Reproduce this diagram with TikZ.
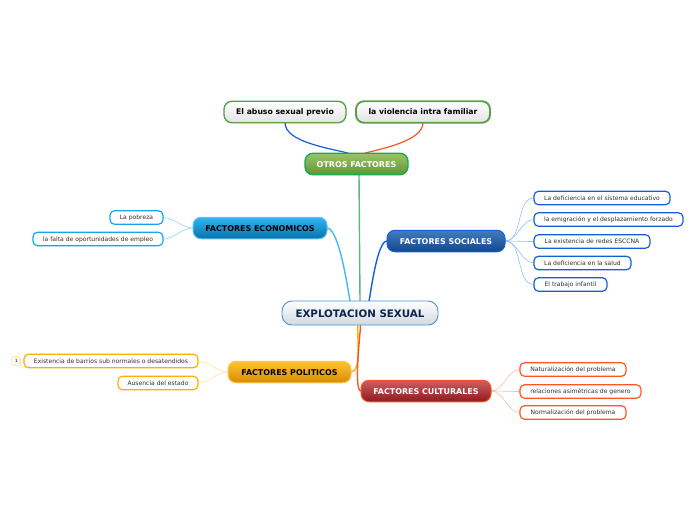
\documentclass[tikz,border=0pt]{standalone}
\usepackage{fontspec}
\setmainfont{DejaVu Sans}
\usetikzlibrary{calc, positioning, backgrounds}

\definecolor{socialblue}{RGB}{20,95,215}
\definecolor{socialpale}{RGB}{150,190,242}
\definecolor{socialtop}{RGB}{65,125,190}
\definecolor{socialbot}{RGB}{20,70,140}
\definecolor{econblue}{RGB}{25,165,235}
\definecolor{econpale}{RGB}{140,215,250}
\definecolor{econtop}{RGB}{50,180,240}
\definecolor{econbot}{RGB}{5,115,175}
\definecolor{polityellow}{RGB}{255,176,0}
\definecolor{politpale}{RGB}{255,226,160}
\definecolor{polittop}{RGB}{255,195,50}
\definecolor{politbot}{RGB}{215,140,5}
\definecolor{cultred}{RGB}{255,85,35}
\definecolor{cultpale}{RGB}{255,185,160}
\definecolor{culttop}{RGB}{205,95,95}
\definecolor{cultbot}{RGB}{145,25,30}
\definecolor{otrosgreen}{RGB}{20,170,85}
\definecolor{otrostop}{RGB}{155,195,105}
\definecolor{otrosbot}{RGB}{95,150,50}
\definecolor{trunkgreen}{RGB}{95,180,135}
\definecolor{leafgreen}{RGB}{90,160,70}
\definecolor{rootblue}{RGB}{60,150,220}
\definecolor{rootgrey}{RGB}{208,217,224}
\definecolor{roottext}{RGB}{15,35,80}

\begin{document}
\begin{tikzpicture}[
    x=1pt, y=-1pt,
    font=\fontsize{6.05}{7.5}\selectfont,
    every node/.style={outer sep=0pt},
    leaf/.style={
        rectangle, line width=1.2pt, fill=white, text=black!80,
        rounded corners=4.5pt, minimum height=13.5pt, inner sep=1pt,
        text height=5.2pt, text depth=0.8pt
    },
    social_leaf/.style={leaf, draw=socialblue},
    econ_leaf/.style={leaf, draw=econblue},
    polit_leaf/.style={leaf, draw=polityellow},
    cult_leaf/.style={leaf, draw=cultred},
    branch_box/.style={
        rectangle, line width=1pt, rounded corners=8pt,
        minimum height=21.5pt, inner sep=1pt, text height=7pt, text depth=0pt,
        font=\fontsize{7.95}{9}\selectfont\bfseries
    },
    top_box/.style={
        rectangle, draw=leafgreen, top color=white, bottom color=black!11,
        rounded corners=8pt, minimum height=21.5pt, inner sep=1pt,
        text height=6.2pt, text depth=0.6pt,
        font=\fontsize{7.7}{9}\selectfont\bfseries
    },
    root_box/.style={
        rectangle, draw=rootblue, line width=0.9pt, top color=white, bottom color=rootgrey,
        rounded corners=10pt, minimum width=156pt, minimum height=24pt, inner sep=1pt,
        text height=8.5pt, text depth=0pt,
        text=roottext, font=\fontsize{10.3}{12}\selectfont\bfseries
    },
    trunk/.style={line width=1.4pt},
    twig/.style={line width=0.6pt}
]

    % =========================================================================
    % FRAME
    % =========================================================================
    \useasboundingbox (0,0) rectangle (696,520);

    % =========================================================================
    % ROOT AND FIRST LEVEL
    % =========================================================================
    \node [root_box] (root) at (360,313) {EXPLOTACION SEXUAL};

    \node [branch_box, draw=otrosgreen, line width=1.3pt, top color=otrostop, bottom color=otrosbot, minimum width=103pt, text=white] (otros) at (356.5,164) {OTROS FACTORES};
    \node [branch_box, draw=econblue!70!white, top color=econtop, bottom color=econbot, minimum width=134pt, text=black] (econ) at (260,228) {FACTORES ECONOMICOS};
    \node [branch_box, draw=socialblue, top color=socialtop, bottom color=socialbot, minimum width=118pt, text=white] (social) at (446,241) {FACTORES SOCIALES};
    \node [branch_box, draw=polityellow!70!white, top color=polittop, bottom color=politbot, minimum width=123pt, text=black] (polit) at (289.5,372) {FACTORES POLITICOS};
    \node [branch_box, draw=cultred, top color=culttop, bottom color=cultbot, minimum width=130pt, text=white] (cult) at (426,391) {FACTORES CULTURALES};

    % =========================================================================
    % OTROS FACTORES CHILDREN
    % =========================================================================
    \node [top_box, line width=1.4pt, minimum width=122pt] (abuso) at (285,112) {El abuso sexual previo};
    \node [top_box, line width=1.9pt, minimum width=134pt] (violencia) at (423,112) {la violencia intra familiar};

    % =========================================================================
    % SOCIAL LEAVES
    % =========================================================================
    \node [social_leaf, anchor=west, minimum width=136pt] (soc_edu) at (534,198) {La deficiencia en el sistema educativo};
    \node [social_leaf, anchor=west, minimum width=149pt] (soc_emi) at (534,219.5) {la emigración y el desplazamiento forzado};
    \node [social_leaf, anchor=west, minimum width=116pt] (soc_red) at (534,241.5) {La existencia de redes ESCCNA};
    \node [social_leaf, anchor=west, minimum width=97pt] (soc_sal) at (534,263) {La deficiencia en la salud};
    \node [social_leaf, anchor=west, minimum width=73pt] (soc_tra) at (534,284.5) {El trabajo infantil};

    % =========================================================================
    % CULTURAL LEAVES
    % =========================================================================
    \node [cult_leaf, anchor=west, minimum width=106pt] (cul_nat) at (520,369.5) {Naturalización del problema};
    \node [cult_leaf, anchor=west, minimum width=121pt] (cul_rel) at (520,391.5) {relaciones asimétricas de genero};
    \node [cult_leaf, anchor=west, minimum width=106pt] (cul_nor) at (520,412.5) {Normalización del problema};

    % =========================================================================
    % ECONOMIC AND POLITICAL LEAVES
    % =========================================================================
    \node [econ_leaf, anchor=east, minimum width=53pt] (eco_pob) at (163,217.5) {La pobreza};
    \node [econ_leaf, anchor=east, minimum width=130pt] (eco_fal) at (163,239) {la falta de oportunidades de empleo};
    \node [polit_leaf, anchor=east, minimum width=174pt] (pol_bar) at (198,361) {Existencia de barrios sub normales o desatendidos};
    \node [polit_leaf, anchor=east, minimum width=80pt] (pol_aus) at (198,383) {Ausencia del estado};
    \node [rectangle, draw=polityellow!50!white, line width=0.6pt, rounded corners=1.5pt, minimum width=8.5pt, minimum height=8.5pt, inner sep=0pt, font=\fontsize{4.5}{5}\selectfont, left=3.5pt of pol_bar] (pol_tag) {1};

    % =========================================================================
    % CONNECTORS
    % =========================================================================
    \begin{scope}[on background layer]
        % Root to branches
        \draw [trunk, trunkgreen] ([xshift=2.5pt]otros.south) -- (root.north);
        \draw [trunk, socialblue] ([xshift=9pt]root.north) to[out=78, in=180, looseness=0.4] (social.west);
        \draw [trunk, econblue!80!white] ([xshift=-10pt]root.north) to[out=100, in=0, looseness=0.4] (econ.east);
        \draw [trunk, polityellow] ([xshift=-2pt]root.south) to[out=-97, in=0, looseness=0.6] (polit.east);
        \draw [trunk, cultred] ([xshift=0.5pt]root.south) to[out=-90, in=180, looseness=0.3] (cult.west);

        % Otros to its children
        \draw [line width=1.2pt, socialblue] (abuso.south) to[out=-90, in=165, looseness=0.7] ([xshift=-8pt]otros.north);
        \draw [line width=1.2pt, cultred] (violencia.south) to[out=-90, in=15, looseness=0.7] ([xshift=8pt]otros.north);

        % Social leaves
        \foreach \leafname in {soc_edu, soc_emi, soc_red, soc_sal, soc_tra}
            \draw [twig, socialpale] (social.east) to[out=0, in=180, looseness=0.9] (\leafname.west);

        % Cultural leaves
        \foreach \leafname in {cul_nat, cul_rel, cul_nor}
            \draw [twig, cultpale] (cult.east) to[out=0, in=180, looseness=0.9] (\leafname.west);

        % Economic leaves
        \foreach \leafname in {eco_pob, eco_fal}
            \draw [twig, econpale] (econ.west) to[out=180, in=0, looseness=0.9] (\leafname.east);

        % Political leaves
        \foreach \leafname in {pol_bar, pol_aus}
            \draw [twig, politpale] (polit.west) to[out=180, in=0, looseness=0.9] (\leafname.east);
    \end{scope}

\end{tikzpicture}
\end{document}
